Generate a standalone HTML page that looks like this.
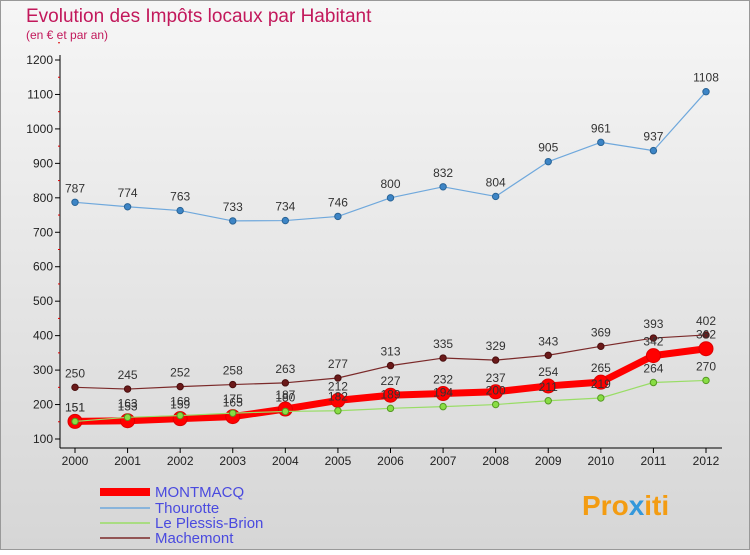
<!DOCTYPE html>
<html><head><meta charset="utf-8"><style>
body{margin:0;width:750px;height:550px;overflow:hidden;font-family:"Liberation Sans",sans-serif}
</style></head><body>
<svg width="750" height="550" xmlns="http://www.w3.org/2000/svg">
<defs><linearGradient id="bg" x1="0" y1="0" x2="0" y2="1"><stop offset="0" stop-color="#f6f6f6"/><stop offset="1" stop-color="#d6d6d6"/></linearGradient></defs>
<rect x="0.5" y="0.5" width="749" height="549" fill="url(#bg)" stroke="#999"/>
<text x="26" y="22" font-size="19" fill="#c2185b">Evolution des Impôts locaux par Habitant</text>
<text x="26" y="39" font-size="12" fill="#c2185b">(en € et par an)</text>
<g id="axes"></g>
<g id="series"></g>
<g id="legend"></g>
<text x="582" y="515" font-size="28" font-weight="bold" fill="#f39c12">Pro<tspan fill="#3498db">x</tspan>iti</text>
</svg>
<script>
const years=[2000,2001,2002,2003,2004,2005,2006,2007,2008,2009,2010,2011,2012];
const yTicks=[100,200,300,400,500,600,700,800,900,1000,1100,1200];
const montmacq=[151,153,159,165,187,212,227,232,237,254,265,342,362];
const plessis=[151,163,168,175,180,182,189,194,200,211,219,264,270];
const thourotte=[787,774,763,733,734,746,800,832,804,905,961,937,1108];
const machemont=[250,245,252,258,263,277,313,335,329,343,369,393,402];
const NS="http://www.w3.org/2000/svg";
const X=i=>75+i*(706-75)/(years.length-1);
const Y=v=>439-(v-100)*(439-60)/1100;
function mk(t,a,p){const e=document.createElementNS(NS,t);for(const k in a)e.setAttribute(k,a[k]);p.appendChild(e);return e;}
const ax=document.getElementById('axes');
const yl=mk('line',{x1:60,y1:55,x2:60,y2:448,stroke:'#000'},ax);


const xl=mk('line',{x1:60,y1:448,x2:722,y2:448,stroke:'#000'},ax);


yTicks.forEach(v=>{mk('line',{x1:55,y1:Y(v),x2:60,y2:Y(v),stroke:'#000'},ax);
 mk('line',{x1:58,y1:Y(v+50),x2:60,y2:Y(v+50),stroke:'#d00'},ax);
 const t=mk('text',{x:53,y:Y(v)+4,'font-size':12,'text-anchor':'end',fill:'#222'},ax);t.textContent=v;
 
 });
years.forEach((y,i)=>{mk('line',{x1:X(i),y1:448,x2:X(i),y2:453,stroke:'#000'},ax);
 const t=mk('text',{x:X(i),y:465,'font-size':12,'text-anchor':'middle',fill:'#222'},ax);t.textContent=y;
 
 });
const sg=document.getElementById('series');
function series(data,name,color,w,r,dot,stroke){
 const g=mk('g',{},sg);
 
 
 mk('polyline',{points:data.map((v,i)=>X(i)+','+Y(v)).join(' '),fill:'none',stroke:color,'stroke-width':w,'stroke-linejoin':'round'},g);
 data.forEach((v,i)=>{const c=mk('circle',{cx:X(i),cy:Y(v),r:r,fill:dot,stroke:stroke,'stroke-width':1},g);
  
  
  const t=mk('text',{x:X(i),y:Y(v)-10,'font-size':12,'text-anchor':'middle',fill:'#333'},g);t.textContent=v;
  
  });
}
series(thourotte,'thourotte','#6fa8dc',1.2,3.2,'#3d85c6','#2a6496');
series(machemont,'machemont','#7b2a2a',1.2,3.2,'#6b1a1a','#4a0f0f');
series(montmacq,'montmacq','#ff0000',7,7,'#ff0000','#dd0000');
series(plessis,'le-plessis-brion','#99dd66',1.2,3.2,'#88dd44','#559922');
const lg=document.getElementById('legend');
[['MONTMACQ','#ff0000',8,492],['Thourotte','#6fa8dc',1.5,508],['Le Plessis-Brion','#99dd66',1.5,523],['Machemont','#7b2a2a',1.5,538]].forEach(([n,c,w,y])=>{
 const g=mk('g',{},lg);
 
 
 mk('line',{x1:100,y1:y,x2:150,y2:y,stroke:c,'stroke-width':w},g);
 const t=mk('text',{x:155,y:y+5,'font-size':15,fill:'#4a4adf'},g);t.textContent=n;});
</script>
</body></html>
